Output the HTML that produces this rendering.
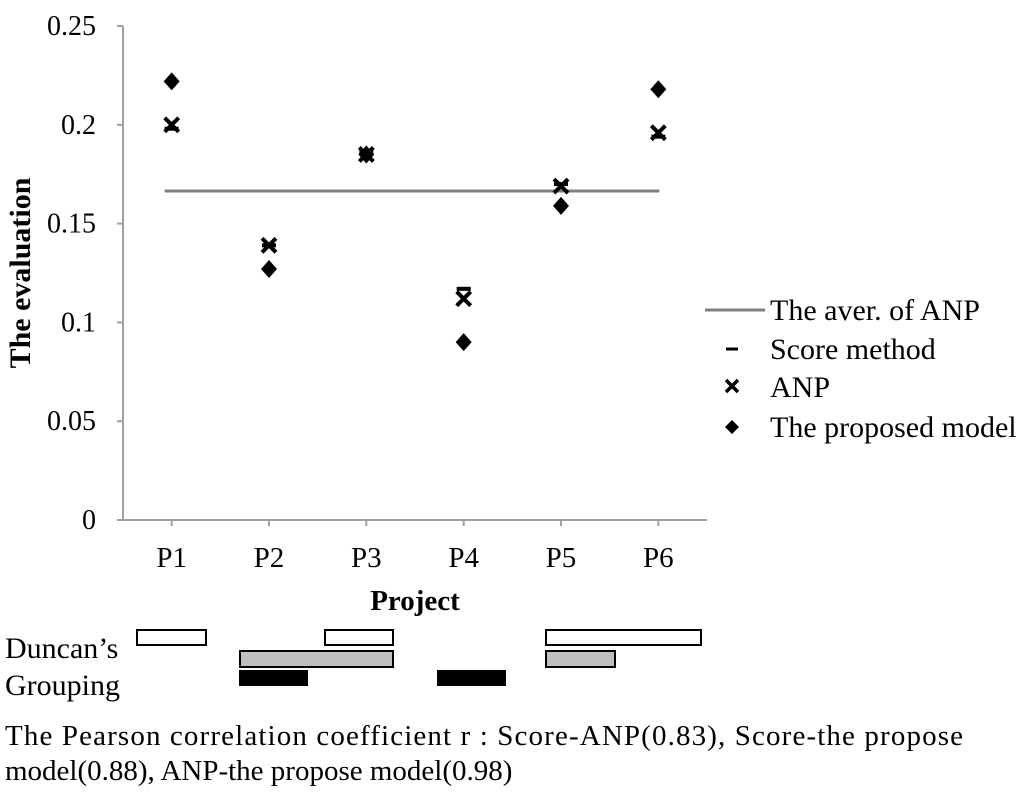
<!DOCTYPE html>
<html><head><meta charset="utf-8"><style>
body{margin:0;background:#fff;width:1024px;height:795px;overflow:hidden;font-family:"Liberation Serif",serif}
svg{position:absolute;left:0;top:0}
</style></head><body>
<svg width="1024" height="795" font-family="Liberation Serif, serif">
<g id="axes"></g><g id="marks"></g>
<text x="415" y="610" font-size="29" font-weight="bold" text-anchor="middle">Project</text>
<text transform="translate(30,273) rotate(-90)" font-size="30" font-weight="bold" text-anchor="middle">The evaluation</text>
<g font-size="30">
<line x1="705" y1="310" x2="765" y2="310" stroke="#808080" stroke-width="3"/>
<text x="770" y="320">The aver. of ANP</text>
<line x1="726" y1="349" x2="738" y2="349" stroke="#000" stroke-width="3"/>
<text x="770" y="359">Score method</text>
<path d="M726,380 L738,392 M738,380 L726,392" stroke="#000" stroke-width="3.5"/>
<text x="770" y="397">ANP</text>
<path d="M732,420 L739,427 L732,434 L725,427Z" fill="#000"/>
<text x="770" y="437">The proposed model</text>
</g>
<g stroke="#000" stroke-width="2">
<rect x="137" y="630" width="69" height="15" fill="#fff"/>
<rect x="325" y="630" width="68" height="15" fill="#fff"/>
<rect x="546" y="630" width="155" height="15" fill="#fff"/>
<rect x="240" y="651" width="153" height="16" fill="#bfbfbf"/>
<rect x="546" y="651" width="69" height="16" fill="#bfbfbf"/>
<rect x="240" y="671" width="67" height="14" fill="#000"/>
<rect x="438" y="671" width="67" height="14" fill="#000"/>
</g>
<text x="5" y="658" font-size="30">Duncan’s</text>
<text x="5" y="695" font-size="30">Grouping</text>
<text x="5" y="745" font-size="29" textLength="958" lengthAdjust="spacing">The Pearson correlation coefficient r : Score-ANP(0.83), Score-the propose</text>
<text x="5" y="780" font-size="29">model(0.88), ANP-the propose model(0.98)</text>
</svg>
<script>
const categories=["P1","P2","P3","P4","P5","P6"];
const scoreVals=[0.198,0.139,0.186,0.117,0.170,0.194];
const anpVals=[0.200,0.139,0.185,0.112,0.169,0.196];
const proposedVals=[0.222,0.127,0.185,0.090,0.159,0.218];
const avgVal=0.1665;
const yTicks=[0,0.05,0.1,0.15,0.2,0.25];
const yTickLabels=["0","0.05","0.1","0.15","0.2","0.25"];
const X0=123,X1=707,Y0=520,Y1=26;
const y=v=>Y0-(v/0.25)*(Y0-Y1);
const bw=(X1-X0)/categories.length;
const x=i=>X0+bw*(i+0.5);
const NS="http://www.w3.org/2000/svg";
const ax=document.getElementById('axes'),mk=document.getElementById('marks');
function el(p,t,a){const e=document.createElementNS(NS,t);for(const k in a)e.setAttribute(k,a[k]);p.appendChild(e);return e;}
let e=el(ax,'line',{x1:X0,y1:Y1,x2:X0,y2:Y0,stroke:'#a0a0a0','stroke-width':2});


e=el(ax,'line',{x1:X0,y1:Y0,x2:X1,y2:Y0,stroke:'#a0a0a0','stroke-width':2});


yTicks.forEach((t,i)=>{
  el(ax,'line',{x1:X0-6,y1:y(t),x2:X0,y2:y(t),stroke:'#a0a0a0','stroke-width':2});
  const tx=el(ax,'text',{x:X0-27,y:y(t)+9,'font-size':28,'text-anchor':'end'});
  tx.textContent=yTickLabels[i];
  
  
});
categories.forEach((c,i)=>{
  el(ax,'line',{x1:x(i),y1:Y0,x2:x(i),y2:Y0+6,stroke:'#a0a0a0','stroke-width':2});
  const tx=el(ax,'text',{x:x(i),y:Y0+47,'font-size':29,'text-anchor':'middle'});
  tx.textContent=c;
  
  
});
e=el(mk,'line',{x1:x(0)-7,y1:y(avgVal),x2:x(5)+1,y2:y(avgVal),stroke:'#808080','stroke-width':3});


categories.forEach((c,i)=>{
  const cx=x(i);
  let s=el(mk,'line',{x1:cx-7,y1:y(scoreVals[i]),x2:cx+7,y2:y(scoreVals[i]),stroke:'#000','stroke-width':4});
  
  
  const ay=y(anpVals[i]);
  let a=el(mk,'path',{d:`M${cx-7},${ay-7}L${cx+7},${ay+7}M${cx+7},${ay-7}L${cx-7},${ay+7}`,stroke:'#000','stroke-width':4});
  
  
  const py=y(proposedVals[i]);
  let p=el(mk,'path',{d:`M${cx},${py-9}L${cx+8},${py}L${cx},${py+9}L${cx-8},${py}Z`,fill:'#000'});
  
  
});
</script>
</body></html>
